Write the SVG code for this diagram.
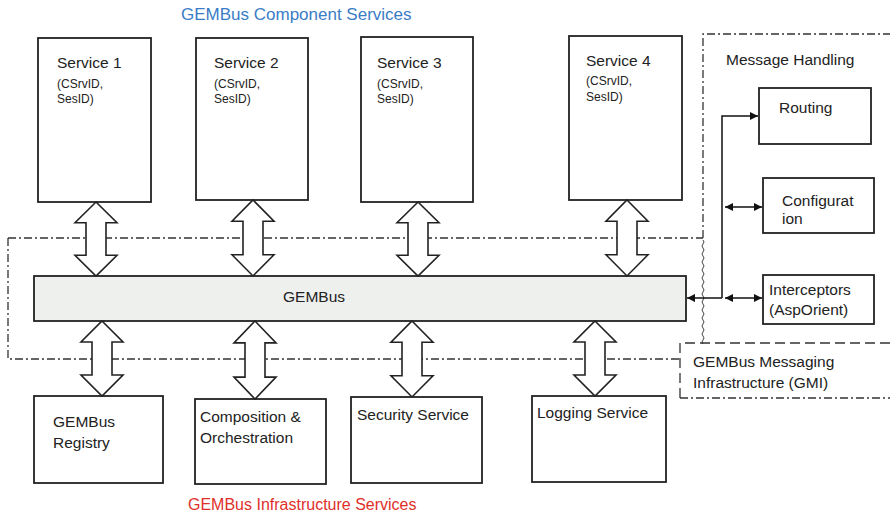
<svg xmlns="http://www.w3.org/2000/svg" width="890" height="517" viewBox="0 0 890 517">
<style>
  .box{fill:#fff;stroke:#222;stroke-width:1.8}
  .bus{fill:#eef0ee;stroke:#222;stroke-width:1.8}
  .t{font-family:"Liberation Sans",Arial,sans-serif;fill:#222}
  .big{font-size:15.5px}
  .mid{font-size:15.5px}
  .sm{font-size:12px}
  .blk{fill:#fff;stroke:#222;stroke-width:1.6;stroke-linejoin:miter}
  .dd{fill:none;stroke:#333;stroke-width:1.3;stroke-dasharray:8 3 2 3}
  .da{fill:none;stroke:#333;stroke-width:1.3;stroke-dasharray:10 5}
  .ln{fill:none;stroke:#111;stroke-width:1.5}
</style>
<defs>
  <marker id="ah" viewBox="0 0 10 10" refX="10" refY="5" markerWidth="8" markerHeight="8" markerUnits="userSpaceOnUse" orient="auto-start-reverse">
    <path d="M0,0 L10,5 L0,10 Z" fill="#111"/>
  </marker>
  <path id="dbl" d="M0,0 L21,21 L10,21 L10,54 L21,54 L0,75 L-21,54 L-10,54 L-10,21 L-21,21 Z"/>
</defs>
<rect width="890" height="517" fill="#fff"/>

<!-- region boundaries -->
<g id="regions">
  <path class="dd" d="M8,238 H703"/>
  <path class="dd" d="M8,238 V359 H680"/>
  <path class="dd" d="M703,238 V34 H890"/>
  <path fill="none" stroke="#444" stroke-width="1" d="M703,240 q2,2 0,4 q-2,2 0,4 q2,2 0,4 q-2,2 0,4 q2,2 0,4 q-2,2 0,4 q2,2 0,4 q-2,2 0,4 q2,2 0,4 q-2,2 0,4 q2,2 0,4 q-2,2 0,4 q2,2 0,4 q-2,2 0,4 q2,2 0,4 q-2,2 0,4 q2,2 0,4 q-2,2 0,4 q2,2 0,4 q-2,2 0,4 q2,2 0,4 q-2,2 0,4 q2,2 0,4 q-2,2 0,4 q2,2 0,4 q-2,2 0,4"/>
  <path class="da" d="M680,398 V343 H890"/>
  <path class="dd" d="M680,398 H890"/>
</g>

<text class="t" x="181" y="20" font-size="17" style="fill:#3a7cc6">GEMBus Component Services</text>
<text class="t" x="188" y="510" font-size="16" style="fill:#e0302a">GEMBus Infrastructure Services</text>

<g id="service1"><rect class="box" x="38" y="38" width="113" height="164"/>
  <text class="t big" x="57" y="68">Service 1</text>
  <text class="t sm" x="57" y="88">(CSrvID,</text><text class="t sm" x="57" y="103">SesID)</text></g>
<g id="service2"><rect class="box" x="196" y="38" width="112" height="162"/>
  <text class="t big" x="214" y="68">Service 2</text>
  <text class="t sm" x="214" y="88">(CSrvID,</text><text class="t sm" x="214" y="103">SesID)</text></g>
<g id="service3"><rect class="box" x="361" y="37" width="112" height="165"/>
  <text class="t big" x="377" y="68">Service 3</text>
  <text class="t sm" x="377" y="88">(CSrvID,</text><text class="t sm" x="377" y="103">SesID)</text></g>
<g id="service4"><rect class="box" x="569" y="36" width="113" height="164"/>
  <text class="t big" x="586" y="66">Service 4</text>
  <text class="t sm" x="586" y="85">(CSrvID,</text><text class="t sm" x="586" y="101">SesID)</text></g>

<g id="gembus"><rect class="bus" x="34" y="276" width="652" height="45"/>
  <text class="t mid" x="314" y="302" text-anchor="middle">GEMBus</text></g>

<g id="message-handling"><text class="t big" x="726" y="65">Message Handling</text></g>
<g id="routing"><rect class="box" x="759" y="88" width="112" height="56"/>
  <text class="t big" x="779" y="113">Routing</text></g>
<g id="configuration"><rect class="box" x="763" y="178" width="111" height="55"/>
  <text class="t big" x="782" y="206">Configurat</text><text class="t big" x="782" y="224">ion</text></g>
<g id="interceptors"><rect class="box" x="763" y="275" width="111" height="49"/>
  <text class="t mid" x="769" y="295">Interceptors</text><text class="t mid" x="769" y="315">(AspOrient)</text></g>
<g id="gmi"><text class="t mid" x="693" y="367">GEMBus Messaging</text>
  <text class="t mid" x="693" y="388">Infrastructure (GMI)</text></g>

<g id="registry"><rect class="box" x="34" y="396" width="129" height="87"/>
  <text class="t mid" x="53" y="427">GEMBus</text><text class="t mid" x="53" y="448">Registry</text></g>
<g id="composition"><rect class="box" x="195" y="399" width="131" height="85"/>
  <text class="t mid" x="200" y="422">Composition &amp;</text><text class="t mid" x="200" y="443">Orchestration</text></g>
<g id="security"><rect class="box" x="351" y="397" width="131" height="86"/>
  <text class="t mid" x="357" y="420">Security Service</text></g>
<g id="logging"><rect class="box" x="532" y="396" width="134" height="86"/>
  <text class="t mid" x="537" y="418">Logging Service</text></g>

<g id="connectors">
  <use href="#dbl" class="blk" transform="translate(96,202) scale(1,0.987)"/>
  <use href="#dbl" class="blk" transform="translate(253,200) scale(1,1.013)"/>
  <use href="#dbl" class="blk" transform="translate(418,202) scale(1,0.987)"/>
  <use href="#dbl" class="blk" transform="translate(627,200) scale(1,1.013)"/>
  <use href="#dbl" class="blk" transform="translate(102,321)"/>
  <use href="#dbl" class="blk" transform="translate(255,321) scale(1,1.04)"/>
  <use href="#dbl" class="blk" transform="translate(412,321) scale(1,1.013)"/>
  <use href="#dbl" class="blk" transform="translate(595,321)"/>
  <path class="ln" d="M722,298 V116 H758" marker-end="url(#ah)"/>
  <path class="ln" d="M722,298 H687" marker-end="url(#ah)"/>
  <path class="ln" d="M725,207 H762" marker-start="url(#ah)" marker-end="url(#ah)"/>
  <path class="ln" d="M725,298 H762" marker-start="url(#ah)" marker-end="url(#ah)"/>
</g>
</svg>
